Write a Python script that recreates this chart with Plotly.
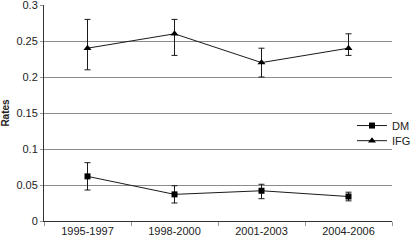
import plotly.graph_objects as go

categories = ["1995-1997", "1998-2000", "2001-2003", "2004-2006"]
dm_values = [0.062, 0.037, 0.042, 0.034]
dm_upper = [0.081, 0.049, 0.051, 0.040]
dm_lower = [0.043, 0.025, 0.031, 0.028]
ifg_values = [0.24, 0.26, 0.22, 0.24]
ifg_upper = [0.28, 0.28, 0.24, 0.26]
ifg_lower = [0.21, 0.23, 0.20, 0.23]
y_ticks = [0, 0.05, 0.1, 0.15, 0.2, 0.25, 0.3]
y_ticklabels = ["0", "0.05", "0.1", "0.15", "0.2", "0.25", "0.3"]

def err(vals, up, lo):
    return dict(type="data", symmetric=False,
                array=[u - v for u, v in zip(up, vals)],
                arrayminus=[v - l for v, l in zip(vals, lo)],
                color="#1a1a1a", thickness=1, width=3)

fig = go.Figure()
fig.add_trace(go.Scatter(x=categories, y=dm_values, name="DM", mode="lines+markers",
                         line=dict(color="#1a1a1a", width=1),
                         marker=dict(symbol="square", size=6, color="#000"),
                         error_y=err(dm_values, dm_upper, dm_lower), legend="legend"))
fig.add_trace(go.Scatter(x=categories, y=ifg_values, name="IFG", mode="lines+markers",
                         line=dict(color="#1a1a1a", width=1),
                         marker=dict(symbol="triangle-up", size=7, color="#000"),
                         error_y=err(ifg_values, ifg_upper, ifg_lower), legend="legend2"))

leg_common = dict(xanchor="left", x=0.885, yanchor="top",
                  bgcolor="rgba(0,0,0,0)", font=dict(size=11), itemwidth=30)
fig.update_layout(
    width=416, height=240,
    margin=dict(l=44, r=0, t=5, b=19),
    paper_bgcolor="white", plot_bgcolor="white",
    font=dict(family="Liberation Sans, Arial, sans-serif", size=11, color="#222"),
    showlegend=True,
    legend=dict(y=0.509, **leg_common),
    legend2=dict(y=0.439, **leg_common),
)
fig.update_xaxes(type="category", range=[-0.5, 3.5], showgrid=False,
                 showline=True, linecolor="#333", linewidth=1,
                 ticks="outside", tickson="boundaries", ticklen=4, tickcolor="#999",
                 tickfont=dict(size=11))
fig.update_yaxes(range=[0, 0.300001], tickvals=y_ticks, ticktext=y_ticklabels,
                 showgrid=True, gridcolor="#8c8c8c", gridwidth=1,
                 showline=True, linecolor="#333", linewidth=1,
                 ticks="outside", ticklen=3, tickcolor="#999",
                 zeroline=False, tickfont=dict(size=11), ticklabeloverflow="allow",
                 title=dict(text="<b>Rates</b>", font=dict(size=10), standoff=8))

fig.write_html("out.html", config={"displayModeBar": False},
               post_script="document.body.style.margin='0';document.body.style.overflow='hidden';")
